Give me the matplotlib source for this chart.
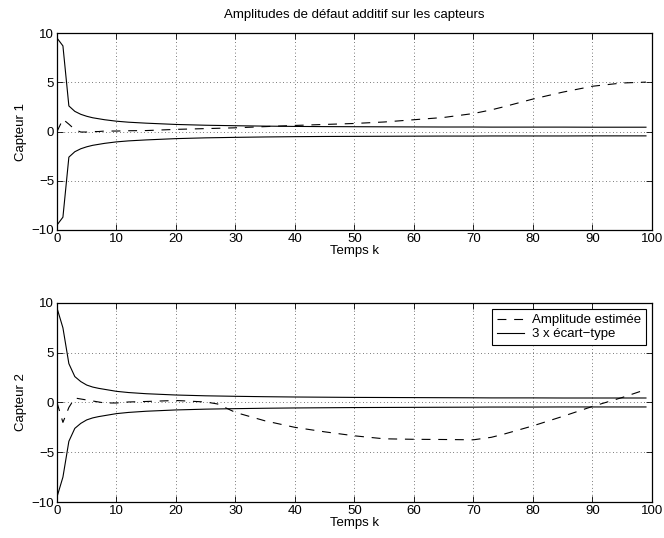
import matplotlib
matplotlib.use('Agg')
import matplotlib.pyplot as plt
import numpy as np

plt.rcParams['font.family'] = ['Liberation Sans', 'DejaVu Sans']
plt.rcParams['font.size'] = 9.5

# sample instants
k = [0, 1, 2, 3, 4, 5, 6, 7, 8, 10, 12, 15, 20, 25, 27, 30, 35, 40, 45,
     50, 55, 60, 65, 70, 73, 75, 80, 85, 90, 95, 99]

# capteur 1: estimated amplitude and 3 sigma bound
amp1 = [0.0, 1.25, 0.75, 0.2, -0.05, -0.05, 0.0, 0.0, 0.05, 0.05, 0.08, 0.1,
        0.22, 0.3, 0.33, 0.38, 0.5, 0.62, 0.72, 0.82, 0.97, 1.2, 1.43, 1.83,
        2.2, 2.5, 3.3, 4.0, 4.6, 4.93, 5.02]
sig1 = [9.5, 8.7, 2.6, 2.05, 1.75, 1.55, 1.4, 1.3, 1.2, 1.05, 0.95, 0.85,
        0.72, 0.64, 0.62, 0.59, 0.55, 0.52, 0.5, 0.49, 0.48, 0.47, 0.46,
        0.46, 0.45, 0.45, 0.45, 0.45, 0.44, 0.44, 0.44]

# capteur 2
amp2 = [0.0, -2.0, -0.5, 0.45, 0.35, 0.25, 0.15, 0.05, -0.05, -0.05, 0.05,
        0.1, 0.2, 0.05, -0.15, -1.0, -1.85, -2.5, -2.95, -3.35, -3.65, -3.7,
        -3.72, -3.75, -3.5, -3.2, -2.35, -1.4, -0.4, 0.5, 1.3]
sig2 = [9.5, 7.5, 3.9, 2.6, 2.1, 1.75, 1.55, 1.42, 1.32, 1.12, 1.0, 0.88,
        0.75, 0.67, 0.65, 0.62, 0.58, 0.55, 0.53, 0.51, 0.5, 0.49, 0.48,
        0.47, 0.46, 0.46, 0.46, 0.45, 0.45, 0.45, 0.45]


def draw_sensor(ax, amp, sig, ylabel):
    sig = np.array(sig)
    ax.plot(k, amp, color='black', linewidth=0.8, dashes=(8, 7),
            label='Amplitude estimée')
    ax.plot(k, sig, color='black', linewidth=0.8, label='3 x écart\u2212type')
    ax.plot(k, -sig, color='black', linewidth=0.8)
    ax.set_xlim(0, 100)
    ax.set_ylim(-10, 10)
    ax.set_xticks(range(0, 101, 10))
    ax.set_yticks([-10, -5, 0, 5, 10])
    ax.set_yticklabels(['\u221210', '\u22125', '0', '5', '10'])
    ax.grid(True, color='black', linestyle=(0, (1, 4)), linewidth=0.5)
    ax.tick_params(direction='in', top=True, right=True, length=4,
                   width=0.6, pad=2)
    for s in ax.spines.values():
        s.set_linewidth(0.9)
    ax.set_xlabel('Temps k', labelpad=0)
    ax.set_ylabel(ylabel, labelpad=3)


fig = plt.figure(figsize=(6.64, 5.38), dpi=100)
ax1 = fig.add_axes([0.0858, 0.5725, 0.896, 0.366])
ax2 = fig.add_axes([0.0858, 0.0669, 0.896, 0.370])

draw_sensor(ax1, amp1, sig1, 'Capteur 1')
ax1.set_title('Amplitudes de défaut additif sur les capteurs', fontsize=9.5, pad=11)

draw_sensor(ax2, amp2, sig2, 'Capteur 2')
leg = ax2.legend(loc='upper right', fancybox=False, edgecolor='black',
                 framealpha=1, borderaxespad=0.45, handlelength=2.0,
                 labelspacing=0.12, borderpad=0.4, handletextpad=0.6)
leg.get_frame().set_linewidth(0.8)

fig.savefig('out.png', dpi=100)
